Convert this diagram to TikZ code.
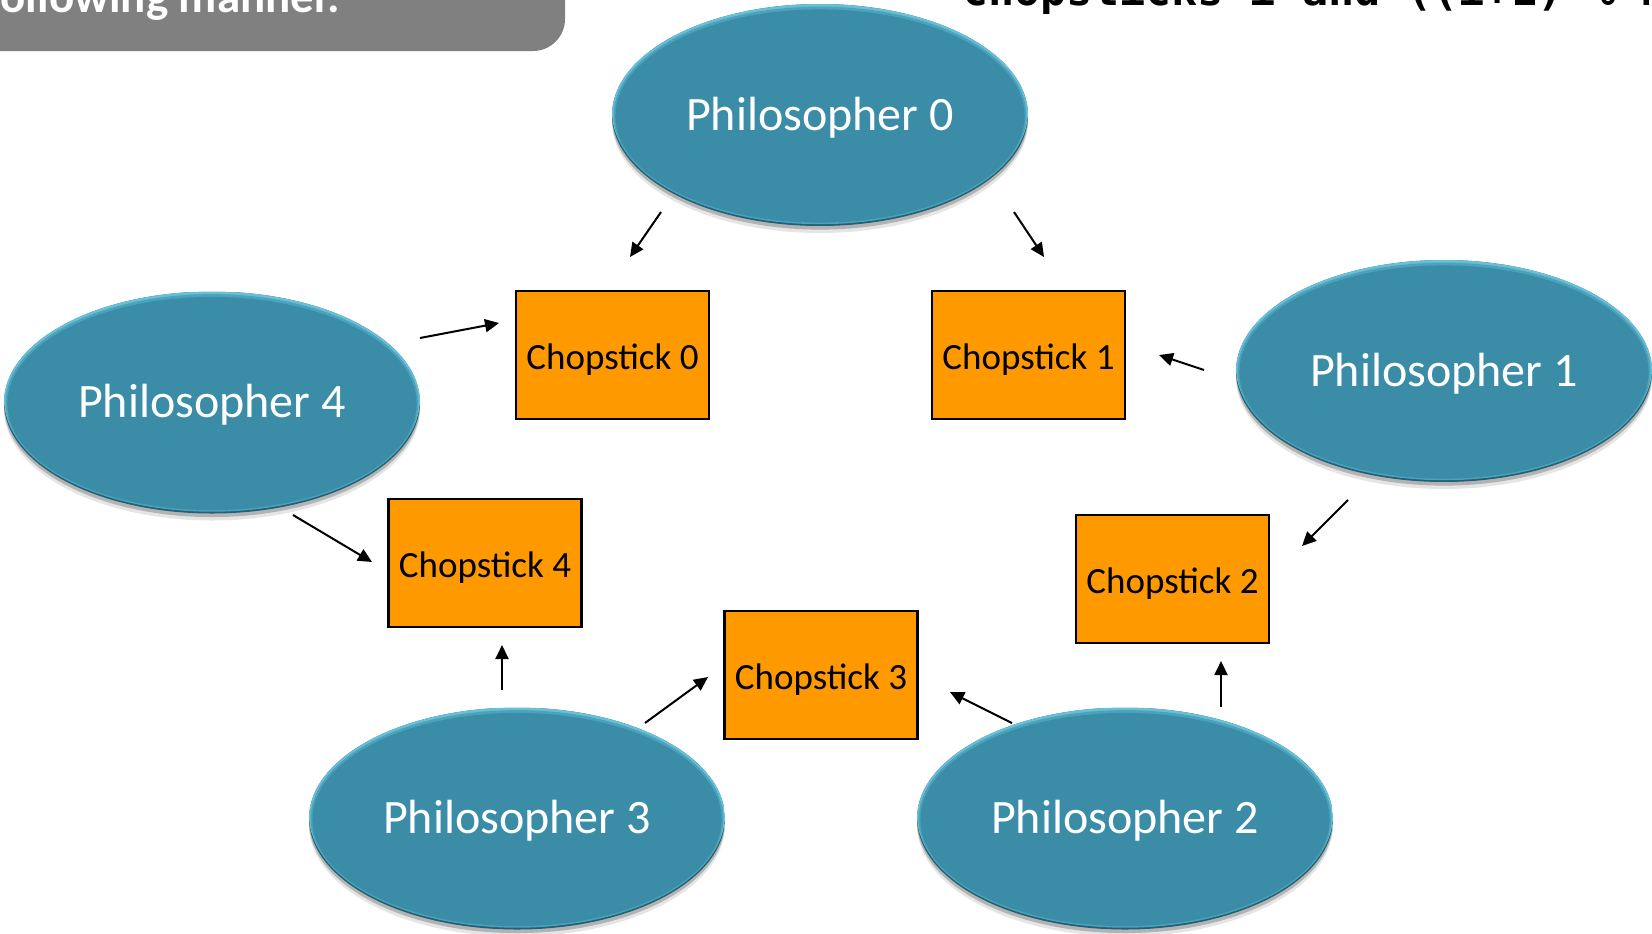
\documentclass[tikz,border=0pt]{standalone}
\usepackage{fontspec}
\setmainfont{Carlito}
\newfontfamily\codefont{DejaVu Sans Mono}
\usetikzlibrary{shapes.geometric,arrows.meta}

\definecolor{philofill}{RGB}{58,140,167}
\definecolor{philomid}{RGB}{74,162,188}
\definecolor{philolight}{RGB}{104,192,216}
\definecolor{philodark}{RGB}{36,96,116}
\definecolor{stickfill}{RGB}{255,153,0}
\definecolor{bannergray}{RGB}{128,128,128}

\tikzset{
  philo/.style={
    ellipse, minimum width=208pt, minimum height=111pt, inner sep=0pt,
    text=white, font=\fontsize{24}{28}\selectfont,
    text height=15pt, text depth=0pt,
    preaction={fill=black, opacity=0.10, transform canvas={yshift=-3.5pt}},
    preaction={fill=black, opacity=0.22, transform canvas={yshift=-1.8pt}},
    path picture={
      \fill[philodark] (path picture bounding box.south west) rectangle (path picture bounding box.north east);
      \fill[philolight] ([yshift=1.5pt]path picture bounding box.center) ellipse [x radius=104pt, y radius=55.5pt];
      \fill[philomid] ([yshift=-0.2pt]path picture bounding box.center) ellipse [x radius=103.2pt, y radius=54.4pt];
      \fill[philofill] ([yshift=-0.5pt]path picture bounding box.center) ellipse [x radius=102.3pt, y radius=53.3pt];
    }
  },
  stick/.style={
    rectangle, draw=black, line width=1.2pt, fill=stickfill,
    minimum width=96.5pt, minimum height=64pt, inner sep=0pt,
    font=\fontsize{18.5}{22}\selectfont,
    text height=14pt, text depth=0pt
  },
  grab/.style={line width=1pt, -{Triangle[length=7pt,width=6.5pt]}}
}

\begin{document}
\begin{tikzpicture}[x=0.5pt,y=-0.5pt]
\useasboundingbox (0,0) rectangle (1652,933);
\clip (0,0) rectangle (1652,933);

% heading fragments along the top edge
\fill[bannergray, rounded corners=16pt] (-40,-40) rectangle (565,51);
\node[anchor=base east, inner sep=0pt, text=white,
      font=\bfseries\fontsize{23.5}{28}\selectfont] (banner) at (340,12.5) {following manner.};
\node[anchor=base west, inner sep=0pt,
      font=\codefont\bfseries\fontsize{21.7}{26}\selectfont] (rule) at (962,5) {chopsticks i and ((i+1) \% N)};

% philosophers
\node[philo] (p0) at (820,115)   {Philosopher 0};
\node[philo] (p1) at (1444,371)  {Philosopher 1};
\node[philo] (p2) at (1125,818.5){Philosopher 2};
\node[philo] (p3) at (517,818.5) {Philosopher 3};
\node[philo] (p4) at (212,402.5) {Philosopher 4};

% chopsticks
\node[stick] (c0) at (612.5,355) {Chopstick 0};
\node[stick] (c1) at (1028.5,355){Chopstick 1};
\node[stick] (c2) at (1172.5,579){Chopstick 2};
\node[stick] (c3) at (821,675)   {Chopstick 3};
\node[stick] (c4) at (485,563)   {Chopstick 4};

% arrow end points
\coordinate (p0l) at (661,212);   \coordinate (c0t) at (630,257);
\coordinate (p0r) at (1014,212);  \coordinate (c1t) at (1044,257);
\coordinate (p4r) at (420,338);   \coordinate (c0l) at (499,323);
\coordinate (p1l) at (1204,370);  \coordinate (c1r) at (1159,355);
\coordinate (p1b) at (1348,500);  \coordinate (c2r) at (1302,546);
\coordinate (p4b) at (293,515);   \coordinate (c4l) at (372,562);
\coordinate (p3t) at (502,690);   \coordinate (c4b) at (502,645);
\coordinate (p3r) at (645,723);   \coordinate (c3l) at (708,677);
\coordinate (p2l) at (1012,723);  \coordinate (c3r) at (950,692);
\coordinate (p2t) at (1221,707);  \coordinate (c2b) at (1221,661);

% each philosopher reaches for two chopsticks
\draw[grab] (p0l) -- (c0t);
\draw[grab] (p0r) -- (c1t);
\draw[grab] (p4r) -- (c0l);
\draw[grab] (p1l) -- (c1r);
\draw[grab] (p1b) -- (c2r);
\draw[grab] (p4b) -- (c4l);
\draw[grab] (p3t) -- (c4b);
\draw[grab] (p3r) -- (c3l);
\draw[grab] (p2l) -- (c3r);
\draw[grab] (p2t) -- (c2b);
\end{tikzpicture}
\end{document}
